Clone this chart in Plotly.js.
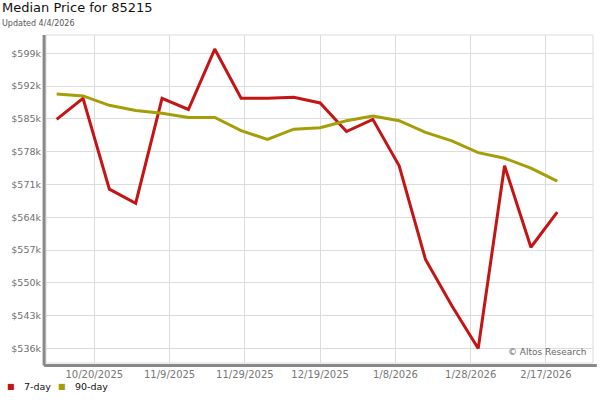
<!DOCTYPE html>
<html>
<head>
<meta charset="utf-8">
<script src="https://cdn.plot.ly/plotly-3.0.1.min.js"></script>
<style>html,body{margin:0;padding:0;background:#fff;}#chart{width:600px;height:400px;}</style>
</head>
<body>
<div id="chart"></div>
<script>
const dates = ["2025-10-10","2025-10-17","2025-10-24","2025-10-31","2025-11-07","2025-11-14","2025-11-21","2025-11-28","2025-12-05","2025-12-12","2025-12-19","2025-12-26","2026-01-02","2026-01-09","2026-01-16","2026-01-23","2026-01-30","2026-02-06","2026-02-13","2026-02-20"];
const day7 = [584.9,589.4,570.0,567.0,589.4,587.0,599.9,589.4,589.4,589.6,588.4,582.3,584.9,575.0,555.0,545.1,536.0,575.0,557.6,565.1];
const day90 = [590.3,589.9,587.9,586.8,586.2,585.3,585.3,582.5,580.6,582.8,583.1,584.6,585.6,584.6,582.1,580.3,577.8,576.6,574.5,571.7];
const xTicks = ["2025-10-20","2025-11-09","2025-11-29","2025-12-19","2026-01-08","2026-01-28","2026-02-17"];
const xTickText = ["10/20/2025","11/9/2025","11/29/2025","12/19/2025","1/8/2026","1/28/2026","2/17/2026"];
const yTicks = [536,543,550,557,564,571,578,585,592,599];
const yTickText = yTicks.map(v => "$" + v + "k");
const seriesNames = ["7-day","90-day"];
const colors = ["#c41414","#a59e08"];

const font = "DejaVu Sans, Verdana, sans-serif";
const traces = [
  {x: dates, y: day7, name: seriesNames[0], mode: "lines", line: {color: colors[0], width: 3}},
  {x: dates, y: day90, name: seriesNames[1], mode: "lines", line: {color: colors[1], width: 3}}
];
const layout = {
  width: 600, height: 400,
  margin: {l: 46, r: 7, t: 35, b: 37, pad: 0},
  paper_bgcolor: "#fff", plot_bgcolor: "#fff",
  showlegend: false,
  font: {family: font, color: "#666", size: 9.5},
  xaxis: {
    type: "date",
    range: ["2025-10-07 04:00", "2026-03-01 12:00"],
    tickvals: xTicks, ticktext: xTickText,
    showgrid: true, gridcolor: "#dcdcdc", gridwidth: 1,
    zeroline: false, showline: false, ticks: "",
    ticklabelstandoff: 4,
    tickfont: {family: font, size: 10, color: "#777"}
  },
  yaxis: {
    range: [532.9, 602.9],
    tickvals: yTicks, ticktext: yTickText,
    showgrid: true, gridcolor: "#dcdcdc", gridwidth: 1,
    zeroline: false, showline: false, ticks: "",
    ticklabelstandoff: 4,
    tickfont: {family: font, size: 9.5, color: "#707070"}
  },
  shapes: [
    {type: "rect", xref: "paper", yref: "paper", x0: 0, x1: 1, y0: 0, y1: 1, line: {color: "#dcdcdc", width: 1}, layer: "below"},
    {type: "line", xref: "paper", yref: "paper", x0: -0.0035, x1: -0.0035, y0: -0.008, y1: 1, line: {color: "#888", width: 3}},
    {type: "line", xref: "paper", yref: "paper", x0: -0.0035, x1: 1.007, y0: -0.008, y1: -0.008, line: {color: "#888", width: 3}}
  ],
  annotations: [
    {text: "Median Price for 85215", xref: "paper", yref: "paper", x: -0.084, y: 1.085, xanchor: "left", yanchor: "middle", showarrow: false, font: {family: font, size: 13, color: "#111"}},
    {text: "Updated 4/4/2026", xref: "paper", yref: "paper", x: -0.084, y: 1.035, xanchor: "left", yanchor: "middle", showarrow: false, font: {family: font, size: 8, color: "#555"}},
    {text: "© Altos Research", xref: "paper", yref: "paper", x: 0.99, y: 0.033, xanchor: "right", yanchor: "middle", showarrow: false, font: {family: font, size: 9, color: "#666"}},
    {text: "■", xref: "paper", yref: "paper", x: -0.0644, y: -0.071, xanchor: "center", yanchor: "middle", showarrow: false, font: {family: font, size: 8, color: colors[0]}},
    {text: seriesNames[0], xref: "paper", yref: "paper", x: -0.0444, y: -0.071, xanchor: "left", yanchor: "middle", showarrow: false, font: {family: font, size: 9.5, color: "#111"}},
    {text: "■", xref: "paper", yref: "paper", x: 0.0289, y: -0.071, xanchor: "center", yanchor: "middle", showarrow: false, font: {family: font, size: 8, color: colors[1]}},
    {text: seriesNames[1], xref: "paper", yref: "paper", x: 0.0488, y: -0.071, xanchor: "left", yanchor: "middle", showarrow: false, font: {family: font, size: 9.5, color: "#111"}}
  ]
};
Plotly.newPlot("chart", traces, layout, {staticPlot: true, displayModeBar: false});
</script>
</body>
</html>
